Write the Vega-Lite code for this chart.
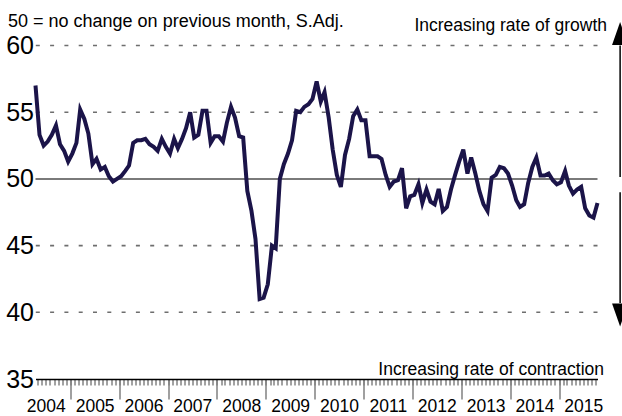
{
  "$schema": "https://vega.github.io/schema/vega-lite/v6.json",
  "width": 562,
  "height": 333.5,
  "autosize": {"type": "none"},
  "padding": {"left": 35.5, "top": 45.5, "right": 24.5, "bottom": 37},
  "background": "white",
  "config": {
    "view": {"stroke": null},
    "font": "Liberation Sans",
    "axis": {"grid": false, "title": null}
  },
  "data": {
    "values": [
      {"date": "2004-04-15", "v": 57.0}, {"date": "2004-05-15", "v": 53.3}, {"date": "2004-06-15", "v": 52.5},
      {"date": "2004-07-15", "v": 52.8}, {"date": "2004-08-15", "v": 53.3}, {"date": "2004-09-15", "v": 54.0},
      {"date": "2004-10-15", "v": 52.6}, {"date": "2004-11-15", "v": 52.1}, {"date": "2004-12-15", "v": 51.3},
      {"date": "2005-01-15", "v": 51.9}, {"date": "2005-02-15", "v": 52.7}, {"date": "2005-03-15", "v": 55.2},
      {"date": "2005-04-15", "v": 54.5}, {"date": "2005-05-15", "v": 53.4}, {"date": "2005-06-15", "v": 51.1},
      {"date": "2005-07-15", "v": 51.5}, {"date": "2005-08-15", "v": 50.7}, {"date": "2005-09-15", "v": 50.9},
      {"date": "2005-10-15", "v": 50.2}, {"date": "2005-11-15", "v": 49.8}, {"date": "2005-12-15", "v": 50.0},
      {"date": "2006-01-15", "v": 50.2}, {"date": "2006-02-15", "v": 50.6}, {"date": "2006-03-15", "v": 51.0},
      {"date": "2006-04-15", "v": 52.7}, {"date": "2006-05-15", "v": 52.9}, {"date": "2006-06-15", "v": 52.9},
      {"date": "2006-07-15", "v": 53.0}, {"date": "2006-08-15", "v": 52.6}, {"date": "2006-09-15", "v": 52.4},
      {"date": "2006-10-15", "v": 52.1}, {"date": "2006-11-15", "v": 53.0}, {"date": "2006-12-15", "v": 52.4},
      {"date": "2007-01-15", "v": 51.9}, {"date": "2007-02-15", "v": 53.0}, {"date": "2007-03-15", "v": 52.3},
      {"date": "2007-04-15", "v": 53.0}, {"date": "2007-05-15", "v": 53.8}, {"date": "2007-06-15", "v": 55.0},
      {"date": "2007-07-15", "v": 53.1}, {"date": "2007-08-15", "v": 53.3}, {"date": "2007-09-15", "v": 55.1},
      {"date": "2007-10-15", "v": 55.1}, {"date": "2007-11-15", "v": 52.7}, {"date": "2007-12-15", "v": 53.2},
      {"date": "2008-01-15", "v": 53.2}, {"date": "2008-02-15", "v": 52.8}, {"date": "2008-03-15", "v": 54.2},
      {"date": "2008-04-15", "v": 55.4}, {"date": "2008-05-15", "v": 54.6}, {"date": "2008-06-15", "v": 53.2},
      {"date": "2008-07-15", "v": 53.1}, {"date": "2008-08-15", "v": 49.1}, {"date": "2008-09-15", "v": 47.6},
      {"date": "2008-10-15", "v": 45.5}, {"date": "2008-11-15", "v": 41.0}, {"date": "2008-12-15", "v": 41.1},
      {"date": "2009-01-15", "v": 42.1}, {"date": "2009-02-15", "v": 45.0}, {"date": "2009-03-15", "v": 44.8},
      {"date": "2009-04-15", "v": 50.0}, {"date": "2009-05-15", "v": 51.1}, {"date": "2009-06-15", "v": 51.9},
      {"date": "2009-07-15", "v": 52.9}, {"date": "2009-08-15", "v": 55.1}, {"date": "2009-09-15", "v": 55.0},
      {"date": "2009-10-15", "v": 55.4}, {"date": "2009-11-15", "v": 55.6}, {"date": "2009-12-15", "v": 56.0},
      {"date": "2010-01-15", "v": 57.3}, {"date": "2010-02-15", "v": 55.8}, {"date": "2010-03-15", "v": 56.5},
      {"date": "2010-04-15", "v": 54.6}, {"date": "2010-05-15", "v": 52.2}, {"date": "2010-06-15", "v": 50.3},
      {"date": "2010-07-15", "v": 49.4}, {"date": "2010-08-15", "v": 51.8}, {"date": "2010-09-15", "v": 53.0},
      {"date": "2010-10-15", "v": 54.7}, {"date": "2010-11-15", "v": 55.2}, {"date": "2010-12-15", "v": 54.4},
      {"date": "2011-01-15", "v": 54.4}, {"date": "2011-02-15", "v": 51.7}, {"date": "2011-03-15", "v": 51.7},
      {"date": "2011-04-15", "v": 51.7}, {"date": "2011-05-15", "v": 51.5}, {"date": "2011-06-15", "v": 50.3},
      {"date": "2011-07-15", "v": 49.4}, {"date": "2011-08-15", "v": 49.8}, {"date": "2011-09-15", "v": 49.9},
      {"date": "2011-10-15", "v": 50.8}, {"date": "2011-11-15", "v": 47.8}, {"date": "2011-12-15", "v": 48.7},
      {"date": "2012-01-15", "v": 48.8}, {"date": "2012-02-15", "v": 49.6}, {"date": "2012-03-15", "v": 48.2},
      {"date": "2012-04-15", "v": 49.2}, {"date": "2012-05-15", "v": 48.3}, {"date": "2012-06-15", "v": 48.1},
      {"date": "2012-07-15", "v": 49.25}, {"date": "2012-08-15", "v": 47.6}, {"date": "2012-09-15", "v": 47.9},
      {"date": "2012-10-15", "v": 49.2}, {"date": "2012-11-15", "v": 50.3}, {"date": "2012-12-15", "v": 51.3},
      {"date": "2013-01-15", "v": 52.2}, {"date": "2013-02-15", "v": 50.4}, {"date": "2013-03-15", "v": 51.6},
      {"date": "2013-04-15", "v": 50.4}, {"date": "2013-05-15", "v": 49.1}, {"date": "2013-06-15", "v": 48.1},
      {"date": "2013-07-15", "v": 47.6}, {"date": "2013-08-15", "v": 50.1}, {"date": "2013-09-15", "v": 50.3},
      {"date": "2013-10-15", "v": 50.9}, {"date": "2013-11-15", "v": 50.8}, {"date": "2013-12-15", "v": 50.4},
      {"date": "2014-01-15", "v": 49.5}, {"date": "2014-02-15", "v": 48.4}, {"date": "2014-03-15", "v": 47.9},
      {"date": "2014-04-15", "v": 48.1}, {"date": "2014-05-15", "v": 49.7}, {"date": "2014-06-15", "v": 50.9},
      {"date": "2014-07-15", "v": 51.6}, {"date": "2014-08-15", "v": 50.25}, {"date": "2014-09-15", "v": 50.25},
      {"date": "2014-10-15", "v": 50.4}, {"date": "2014-11-15", "v": 49.9}, {"date": "2014-12-15", "v": 49.6},
      {"date": "2015-01-15", "v": 49.75}, {"date": "2015-02-15", "v": 50.6}, {"date": "2015-03-15", "v": 49.5},
      {"date": "2015-04-15", "v": 48.9}, {"date": "2015-05-15", "v": 49.2}, {"date": "2015-06-15", "v": 49.4},
      {"date": "2015-07-15", "v": 47.8}, {"date": "2015-08-15", "v": 47.25}, {"date": "2015-09-15", "v": 47.1},
      {"date": "2015-10-15", "v": 48.2}
    ]
  },
  "resolve": {"axis": {"x": "independent", "y": "independent"}},
  "layer": [
    {
      "data": {"values": [{"g": 40}, {"g": 45}, {"g": 55}, {"g": 60}]},
      "mark": {"type": "rule", "color": "#6e6e6e", "strokeWidth": 1.6, "strokeDash": [4, 10.3]},
      "encoding": {
        "y": {"field": "g", "type": "quantitative", "scale": {"domain": [35, 60], "nice": false, "zero": false},
          "axis": {
            "values": [35, 40, 45, 50, 55, 60],
            "labelFontSize": 25, "labelFont": "Liberation Sans", "labelColor": "black", "labelPadding": 2,
            "ticks": false, "domain": false, "title": null, "grid": false
          }
        }
      }
    },
    {
      "data": {"values": [{"g": 50}]},
      "mark": {"type": "rule", "color": "#7a7a7a", "strokeWidth": 2},
      "encoding": {
        "y": {"field": "g", "type": "quantitative", "scale": {"domain": [35, 60], "nice": false, "zero": false}, "axis": null}
      }
    },
    {
      "mark": {"type": "point", "opacity": 0},
      "encoding": {
        "x": {
          "field": "date", "type": "temporal",
          "scale": {"type": "utc", "domain": [{"year": 2004, "month": 4, "date": 15, "utc": true}, {"year": 2015, "month": 10, "date": 15, "utc": true}]},
          "axis": {"orient": "bottom", "tickCount": {"interval": "month", "step": 1}, "labels": false, "tickSize": 6, "tickColor": "#444444", "tickWidth": 1, "domain": false, "grid": false, "title": null}
        },
        "y": {"field": "v", "type": "quantitative", "scale": {"domain": [35, 60], "nice": false, "zero": false}, "axis": null}
      }
    },
    {
      "mark": {"type": "point", "opacity": 0},
      "encoding": {
        "x": {
          "field": "date", "type": "temporal",
          "scale": {"type": "utc", "domain": [{"year": 2004, "month": 4, "date": 15, "utc": true}, {"year": 2015, "month": 10, "date": 15, "utc": true}]},
          "axis": {
            "orient": "bottom",
            "values": [
              {"year": 2004, "month": 7, "date": 1, "utc": true}, {"year": 2005, "month": 7, "date": 1, "utc": true},
              {"year": 2006, "month": 7, "date": 1, "utc": true}, {"year": 2007, "month": 7, "date": 1, "utc": true},
              {"year": 2008, "month": 7, "date": 1, "utc": true}, {"year": 2009, "month": 7, "date": 1, "utc": true},
              {"year": 2010, "month": 7, "date": 1, "utc": true}, {"year": 2011, "month": 7, "date": 1, "utc": true},
              {"year": 2012, "month": 7, "date": 1, "utc": true}, {"year": 2013, "month": 7, "date": 1, "utc": true},
              {"year": 2014, "month": 7, "date": 1, "utc": true}, {"year": 2015, "month": 7, "date": 1, "utc": true}
            ],
            "format": "%Y", "ticks": false, "domain": false, "grid": false, "title": null,
            "labelPadding": 18, "labelFontSize": 17.5, "labelColor": "black", "labelFont": "Liberation Sans",
            "labelOverlap": false, "labelFlush": false, "labelBound": false
          }
        },
        "y": {"field": "v", "type": "quantitative", "scale": {"domain": [35, 60], "nice": false, "zero": false}, "axis": null}
      }
    },
    {
      "mark": {"type": "line", "color": "#1b1449", "strokeWidth": 4},
      "encoding": {
        "x": {
          "field": "date", "type": "temporal",
          "scale": {"type": "utc", "domain": [{"year": 2004, "month": 4, "date": 15, "utc": true}, {"year": 2015, "month": 10, "date": 15, "utc": true}]},
          "axis": {
            "orient": "bottom",
            "values": [
              {"year": 2005, "month": 1, "date": 1, "utc": true}, {"year": 2006, "month": 1, "date": 1, "utc": true},
              {"year": 2007, "month": 1, "date": 1, "utc": true}, {"year": 2008, "month": 1, "date": 1, "utc": true},
              {"year": 2009, "month": 1, "date": 1, "utc": true}, {"year": 2010, "month": 1, "date": 1, "utc": true},
              {"year": 2011, "month": 1, "date": 1, "utc": true}, {"year": 2012, "month": 1, "date": 1, "utc": true},
              {"year": 2013, "month": 1, "date": 1, "utc": true}, {"year": 2014, "month": 1, "date": 1, "utc": true},
              {"year": 2015, "month": 1, "date": 1, "utc": true}
            ],
            "labels": false, "tickSize": 20, "tickColor": "#808080", "tickWidth": 1.5,
            "domain": true, "domainColor": "black", "domainWidth": 1.5, "grid": false, "title": null
          }
        },
        "y": {"field": "v", "type": "quantitative", "scale": {"domain": [35, 60], "nice": false, "zero": false}, "axis": null}
      }
    },
    {
      "data": {"values": [{}]},
      "mark": {"type": "text", "text": "50 = no change on previous month, S.Adj.", "align": "left", "baseline": "alphabetic", "fontSize": 18, "dx": -27.5, "color": "black", "font": "Liberation Sans"},
      "encoding": {
        "x": {"datum": {"year": 2004, "month": 4, "date": 15, "utc": true}, "type": "temporal", "scale": {"type": "utc", "domain": [{"year": 2004, "month": 4, "date": 15, "utc": true}, {"year": 2015, "month": 10, "date": 15, "utc": true}]}, "axis": null},
        "y": {"datum": 61.35, "type": "quantitative", "scale": {"domain": [35, 60], "nice": false, "zero": false}, "axis": null}
      }
    },
    {
      "data": {"values": [{}]},
      "mark": {"type": "text", "text": "Increasing rate of growth", "align": "right", "baseline": "alphabetic", "fontSize": 17.5, "dx": 9.5, "color": "black", "font": "Liberation Sans"},
      "encoding": {
        "x": {"datum": {"year": 2015, "month": 10, "date": 15, "utc": true}, "type": "temporal", "scale": {"type": "utc", "domain": [{"year": 2004, "month": 4, "date": 15, "utc": true}, {"year": 2015, "month": 10, "date": 15, "utc": true}]}, "axis": null},
        "y": {"datum": 61.12, "type": "quantitative", "scale": {"domain": [35, 60], "nice": false, "zero": false}, "axis": null}
      }
    },
    {
      "data": {"values": [{}]},
      "mark": {"type": "text", "text": "Increasing rate of contraction", "align": "right", "baseline": "alphabetic", "fontSize": 17.5, "dx": 6.5, "dy": -4, "color": "black", "font": "Liberation Sans"},
      "encoding": {
        "x": {"datum": {"year": 2015, "month": 10, "date": 15, "utc": true}, "type": "temporal", "scale": {"type": "utc", "domain": [{"year": 2004, "month": 4, "date": 15, "utc": true}, {"year": 2015, "month": 10, "date": 15, "utc": true}]}, "axis": null},
        "y": {"datum": 35, "type": "quantitative", "scale": {"domain": [35, 60], "nice": false, "zero": false}, "axis": null}
      }
    },
    {
      "data": {"values": [{"y1": 50.15, "y2": 60.0}, {"y1": 49.0, "y2": 40.7}]},
      "mark": {"type": "rule", "color": "black", "strokeWidth": 1.5},
      "encoding": {
        "x": {"datum": {"year": 2016, "month": 4, "date": 1, "utc": true}, "type": "temporal", "scale": {"type": "utc", "domain": [{"year": 2004, "month": 4, "date": 15, "utc": true}, {"year": 2015, "month": 10, "date": 15, "utc": true}]}, "axis": null},
        "y": {"field": "y1", "type": "quantitative", "scale": {"domain": [35, 60], "nice": false, "zero": false}, "axis": null},
        "y2": {"field": "y2"}
      }
    },
    {
      "data": {"values": [{"y": 60.9}]},
      "mark": {"type": "point", "shape": "M0,-1L0.7,1L-0.7,1Z", "size": 529, "filled": true, "color": "black", "opacity": 1, "strokeWidth": 0},
      "encoding": {
        "x": {"datum": {"year": 2016, "month": 4, "date": 1, "utc": true}, "type": "temporal", "scale": {"type": "utc", "domain": [{"year": 2004, "month": 4, "date": 15, "utc": true}, {"year": 2015, "month": 10, "date": 15, "utc": true}]}, "axis": null},
        "y": {"field": "y", "type": "quantitative", "scale": {"domain": [35, 60], "nice": false, "zero": false}, "axis": null}
      }
    },
    {
      "data": {"values": [{"y": 39.8}]},
      "mark": {"type": "point", "shape": "M0,1L0.7,-1L-0.7,-1Z", "size": 529, "filled": true, "color": "black", "opacity": 1, "strokeWidth": 0},
      "encoding": {
        "x": {"datum": {"year": 2016, "month": 4, "date": 1, "utc": true}, "type": "temporal", "scale": {"type": "utc", "domain": [{"year": 2004, "month": 4, "date": 15, "utc": true}, {"year": 2015, "month": 10, "date": 15, "utc": true}]}, "axis": null},
        "y": {"field": "y", "type": "quantitative", "scale": {"domain": [35, 60], "nice": false, "zero": false}, "axis": null}
      }
    }
  ]
}
